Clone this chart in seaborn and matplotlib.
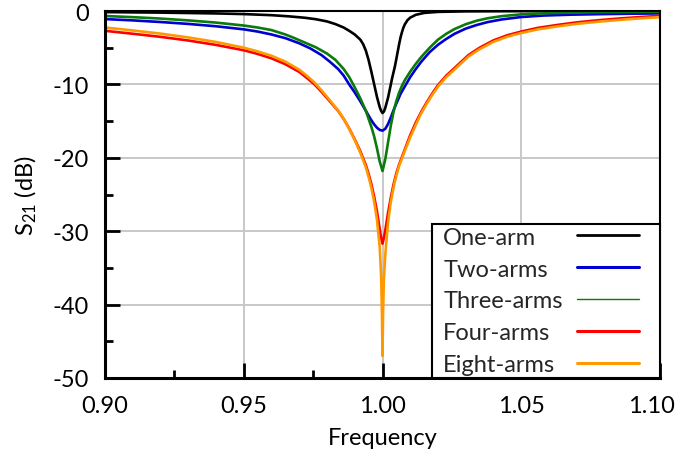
import matplotlib
matplotlib.use("Agg")
import matplotlib.pyplot as plt
import numpy as np
import seaborn as sns
from matplotlib.ticker import MultipleLocator
from matplotlib.transforms import Bbox, ScaledTranslation

# Transmission S21 (dB) of the notch resonators versus normalised frequency
one_arm_f = [0.900, 0.920, 0.940, 0.950, 0.960, 0.966, 0.972, 0.976, 0.980, 0.983,
             0.986, 0.988, 0.990, 0.992, 0.993, 0.994, 0.995, 0.996, 0.997, 0.998,
             0.999, 0.9995, 1.000, 1.0005, 1.001, 1.0015, 1.002, 1.0025, 1.003, 1.0035,
             1.004, 1.0045, 1.005, 1.0055, 1.006, 1.0065, 1.007, 1.0075, 1.008, 1.009,
             1.010, 1.012, 1.015, 1.020, 1.030, 1.050, 1.100]
one_arm_db = [-0.15, -0.22, -0.33, -0.42, -0.57, -0.72, -0.92, -1.12, -1.42, -1.78,
              -2.25, -2.70, -3.20, -3.90, -4.50, -5.40, -6.70, -8.30, -10.00, -11.70,
              -13.10, -13.60, -13.90, -13.70, -13.20, -12.50, -11.80, -10.90, -10.00, -9.10,
              -8.30, -7.50, -6.50, -5.50, -4.50, -3.60, -2.90, -2.30, -1.85, -1.25,
              -0.90, -0.52, -0.26, -0.12, -0.05, -0.02, 0.00]

two_arms_f = [0.900, 0.910, 0.920, 0.930, 0.940, 0.950, 0.955, 0.960, 0.965, 0.970,
              0.974, 0.978, 0.981, 0.984, 0.986, 0.988, 0.990, 0.992, 0.994, 0.996,
              0.997, 0.998, 0.999, 1.000, 1.001, 1.002, 1.003, 1.004, 1.005, 1.0065,
              1.008, 1.010, 1.012, 1.014, 1.017, 1.020, 1.023, 1.026, 1.030, 1.034,
              1.038, 1.043, 1.050, 1.058, 1.068, 1.080, 1.090, 1.100]
two_arms_db = [-1.10, -1.28, -1.50, -1.76, -2.08, -2.50, -2.80, -3.20, -3.70, -4.40,
               -5.10, -6.00, -6.90, -7.90, -8.80, -10.00, -11.10, -12.30, -13.60, -14.90,
               -15.45, -15.90, -16.20, -16.30, -16.05, -15.40, -14.50, -13.50, -12.60, -11.30,
               -10.30, -9.00, -7.90, -6.90, -5.60, -4.60, -3.80, -3.10, -2.40, -1.90,
               -1.50, -1.15, -0.82, -0.62, -0.50, -0.42, -0.37, -0.33]

three_arms_f = [0.900, 0.910, 0.920, 0.930, 0.940, 0.950, 0.955, 0.960, 0.965, 0.968,
                0.972, 0.976, 0.980, 0.983, 0.986, 0.988, 0.990, 0.992, 0.994, 0.996,
                0.997, 0.998, 0.999, 1.000, 1.001, 1.002, 1.003, 1.004, 1.005, 1.006,
                1.007, 1.008, 1.010, 1.012, 1.014, 1.017, 1.020, 1.023, 1.026, 1.030,
                1.034, 1.038, 1.043, 1.050, 1.058, 1.068, 1.080, 1.090, 1.100]
three_arms_db = [-0.68, -0.84, -1.03, -1.28, -1.58, -1.98, -2.25, -2.60, -3.20, -3.65,
                 -4.30, -4.95, -5.80, -6.65, -7.90, -9.00, -10.40, -11.90, -13.60, -15.80,
                 -17.10, -18.70, -20.50, -21.80, -20.20, -17.90, -15.60, -13.70, -12.25, -11.10,
                 -10.20, -9.45, -8.25, -7.20, -6.25, -5.00, -3.90, -3.10, -2.45, -1.80,
                 -1.32, -0.98, -0.70, -0.46, -0.31, -0.22, -0.16, -0.12, -0.10]

four_arms_f = [0.900, 0.910, 0.920, 0.930, 0.940, 0.950, 0.955, 0.960, 0.965, 0.970,
               0.973, 0.9755, 0.978, 0.981, 0.984, 0.986, 0.988, 0.990, 0.992, 0.994,
               0.995, 0.996, 0.997, 0.998, 0.999, 0.9995, 1.000, 1.0005, 1.001, 1.002,
               1.003, 1.004, 1.005, 1.006, 1.007, 1.008, 1.010, 1.012, 1.014, 1.016,
               1.018, 1.020, 1.023, 1.027, 1.031, 1.035, 1.040, 1.045, 1.050, 1.056,
               1.063, 1.070, 1.078, 1.086, 1.093, 1.100]
four_arms_db = [-2.70, -3.10, -3.52, -4.02, -4.62, -5.35, -5.85, -6.45, -7.25, -8.30,
                -9.20, -10.00, -11.00, -12.30, -13.60, -14.70, -16.00, -17.50, -19.10, -21.00,
                -22.20, -23.60, -25.30, -27.30, -29.70, -30.90, -31.70, -30.90, -29.90, -27.50,
                -25.40, -23.60, -22.10, -20.90, -19.90, -18.90, -16.90, -15.20, -13.70, -12.40,
                -11.20, -10.10, -8.80, -7.40, -6.00, -5.00, -4.00, -3.30, -2.80, -2.30,
                -1.90, -1.55, -1.25, -1.00, -0.82, -0.66]

eight_arms_f = [0.900, 0.910, 0.920, 0.930, 0.940, 0.950, 0.955, 0.960, 0.965, 0.970,
                0.973, 0.9755, 0.978, 0.981, 0.984, 0.986, 0.988, 0.990, 0.992, 0.994,
                0.995, 0.996, 0.997, 0.998, 0.999, 0.9995, 0.9998, 1.000, 1.0002, 1.0005,
                1.001, 1.002, 1.003, 1.004, 1.005, 1.006, 1.007, 1.008, 1.010, 1.012,
                1.014, 1.016, 1.018, 1.020, 1.023, 1.027, 1.031, 1.035, 1.040, 1.045,
                1.050, 1.056, 1.063, 1.070, 1.078, 1.086, 1.093, 1.100]
eight_arms_db = [-2.25, -2.65, -3.08, -3.60, -4.22, -5.00, -5.50, -6.10, -6.90, -8.00,
                 -8.90, -9.75, -10.80, -12.15, -13.55, -14.70, -16.05, -17.60, -19.30, -21.30,
                 -22.60, -24.10, -26.00, -28.40, -32.20, -36.00, -41.00, -47.00, -41.00, -36.50,
                 -33.20, -28.80, -26.00, -24.00, -22.40, -21.10, -20.10, -19.10, -17.20, -15.50,
                 -13.90, -12.60, -11.40, -10.30, -9.00, -7.60, -6.20, -5.20, -4.20, -3.50,
                 -3.00, -2.50, -2.10, -1.75, -1.45, -1.20, -1.00, -0.84]

series_labels = ["One-arm", "Two-arms", "Three-arms", "Four-arms", "Eight-arms"]
series_colors = ["#000000", "#0000d0", "#0a7a0a", "#ff0000", "#ff9900"]

x_ticks = [0.90, 0.95, 1.00, 1.05, 1.10]
x_tick_labels = ["0.90", "0.95", "1.00", "1.05", "1.10"]
y_ticks = [0, -10, -20, -30, -40, -50]
y_tick_labels = ["0", "-10", "-20", "-30", "-40", "-50"]

sns.set_style("white")
plt.rcParams["font.family"] = ["Lato", "DejaVu Sans"]
plt.rcParams["mathtext.fontset"] = "custom"
plt.rcParams["mathtext.rm"] = "Lato"
plt.rcParams["axes.unicode_minus"] = False

fig = plt.figure(figsize=(6.76, 4.60), dpi=100)
ax = fig.add_axes([105 / 676, 1 - 379 / 460, 555 / 676, 367 / 460])

curves = [(one_arm_f, one_arm_db), (two_arms_f, two_arms_db), (three_arms_f, three_arms_db),
          (four_arms_f, four_arms_db), (eight_arms_f, eight_arms_db)]
for (freq, s21), label, color in zip(curves, series_labels, series_colors):
    sns.lineplot(x=freq, y=s21, ax=ax, color=color, linewidth=1.9, label=label,
                 estimator=None, sort=False)

ax.set_xlim(0.90, 1.10)
ax.set_ylim(-50, 0)
ax.set_xticks(x_ticks)
ax.set_xticklabels(x_tick_labels)
ax.set_yticks(y_ticks)
ax.set_yticklabels(y_tick_labels)
ax.xaxis.set_minor_locator(MultipleLocator(0.025))
ax.yaxis.set_minor_locator(MultipleLocator(5))

ax.set_axisbelow(True)
ax.grid(True, which="major", color="#c8c8c8", linewidth=1.4)
ax.tick_params(which="both", direction="in", color="black", top=False, right=False,
               left=True, bottom=True)
ax.tick_params(which="major", length=11, width=2, labelsize=17, colors="black")
ax.tick_params(axis="y", which="major", pad=11.5)
ax.tick_params(axis="x", which="major", pad=12.5)
ax.tick_params(which="minor", length=5.5, width=2)

# keep the last frequency label inside the canvas
last_label = ax.get_xticklabels()[-1]
last_label.set_transform(last_label.get_transform()
                         + ScaledTranslation(-9 / 100, 0, fig.dpi_scale_trans))

for side, spine in ax.spines.items():
    spine.set_visible(True)
    spine.set_color("black")
    spine.set_linewidth(2.2 if side in ("left", "bottom") else 1.5)

ax.set_xlabel("Frequency", fontsize=17, labelpad=8, color="black")
ax.set_ylabel(r"$\mathregular{S_{21}}$ (dB)", fontsize=17, labelpad=10, color="black")

leg = ax.legend(loc="lower right", bbox_to_anchor=(1, 0), borderaxespad=0,
                frameon=True, fancybox=False, edgecolor="black", framealpha=1,
                fontsize=17, markerfirst=False, handlelength=3.4, handletextpad=0.6,
                borderpad=0.12, labelspacing=0.46, numpoints=1)
leg.get_frame().set_linewidth(1.5)

# left-align the labels in a common column, with a small left margin
left_gap = 8
label_column = leg._legend_handle_box.get_children()[0]
label_boxes = [row.get_children()[0] for row in label_column.get_children()]
label_bbox_fns = [box.get_bbox for box in label_boxes]


def padded_bbox(fn):
    def get_bbox(renderer):
        bb = fn(renderer)
        width = max(f(renderer).width for f in label_bbox_fns)
        return Bbox.from_bounds(bb.x0 - left_gap, bb.y0, width + left_gap, bb.height)
    return get_bbox


for box, fn in zip(label_boxes, label_bbox_fns):
    box.get_bbox = padded_bbox(fn)

# shorter sample lines, leaving a margin on the right of the legend box
for handle, lw in zip(leg.get_lines(), [2.0, 2.2, 1.0, 2.2, 2.2]):
    handle.set_linewidth(lw)
    xd = np.asarray(handle.get_xdata(), dtype=float)
    yd = np.asarray(handle.get_ydata(), dtype=float)
    n = max(len(xd), len(yd))
    x_new = np.linspace(xd[0], xd[0] + 0.775 * (xd[-1] - xd[0]), n)
    y_new = np.full(n, yd[0])
    handle.set_data(x_new, y_new)

fig.savefig("out.png", dpi=100)
